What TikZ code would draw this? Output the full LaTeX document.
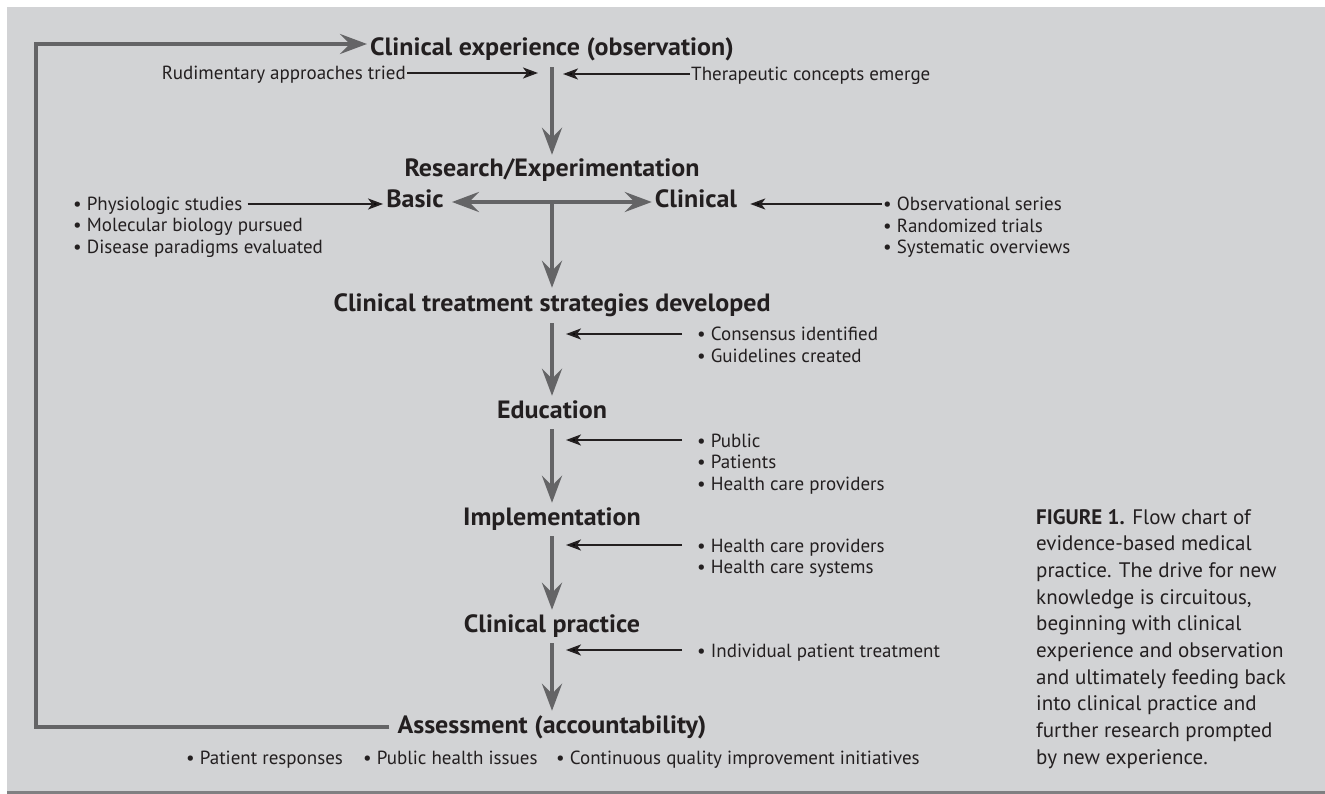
\documentclass[tikz,border=0pt]{standalone}
\usepackage{fontspec}
\setmainfont{PT Sans}
\newfontfamily\stagefont[FakeStretch=1.04]{PT Sans}
\usetikzlibrary{arrows.meta}

\definecolor{panel}{RGB}{210,211,213}
\definecolor{rule}{RGB}{128,128,130}
\definecolor{spine}{RGB}{100,100,102}
\definecolor{ink}{RGB}{35,31,32}

\begin{document}
\begin{tikzpicture}[x=1pt,y=-1pt,inner sep=2pt,
    stage/.style={font=\stagefont\fontsize{25}{29}\selectfont\bfseries,text=ink,text height=17pt,text depth=5pt},
    input/.style={font=\fontsize{19}{21.5}\selectfont,text=ink,text height=14pt,text depth=0pt,inner sep=1pt},
    caption/.style={font=\fontsize{21}{26.7}\selectfont,text=ink,inner sep=0pt},
    flow/.style={draw=spine,line width=4.5pt,-{Stealth[length=27pt,width=20pt,inset=10pt]},
                 shorten <=4pt,shorten >=3pt},
    cue/.style={draw=ink,line width=2pt,-{Stealth[length=15pt,width=11pt,inset=4pt]}}]

  % panel
  \useasboundingbox (0,0) rectangle (1325,794);
  \fill[panel] (7,7) rectangle (1325,791);
  \fill[rule] (7,791) rectangle (1325,794);

  % the chain
  \node[stage,anchor=base] (1) at (552,56) {Clinical experience (observation)};
  \node[stage,anchor=base] (2) at (552,177) {Research/Experimentation};
  \node[stage,anchor=base] (3b) at (415,208) {Basic};
  \node[stage,anchor=base] (3c) at (696,208) {Clinical};
  \node[stage,anchor=base] (4) at (552,312) {Clinical treatment strategies developed};
  \node[stage,anchor=base] (5) at (552,418) {Education};
  \node[stage,anchor=base] (6) at (552,525) {Implementation};
  \node[stage,anchor=base] (7) at (552,632) {Clinical practice};
  \node[stage,anchor=base] (8) at (552,733) {Assessment (accountability)};

  % what feeds in
  \node[input,anchor=base east] (1a) at (407,80) {Rudimentary approaches tried};
  \node[input,anchor=base west] (1b) at (690,81) {Therapeutic concepts emerge};
  \node[input,anchor=base west] (3a) at (72,211) {• Physiologic studies};
  \node[input,anchor=base west] (3a2) at (72,232)
    {\begin{tabular}[t]{@{}l@{}}• Molecular biology pursued\\• Disease paradigms evaluated\end{tabular}};
  \node[input,anchor=base west] (3d) at (882,211)
    {\begin{tabular}[t]{@{}l@{}}• Observational series\\• Randomized trials\\• Systematic overviews\end{tabular}};
  \node[input,anchor=base west] (4a) at (696,341)
    {\begin{tabular}[t]{@{}l@{}}• Consensus identified\\• Guidelines created\end{tabular}};
  \node[input,anchor=base west] (5a) at (696,447)
    {\begin{tabular}[t]{@{}l@{}}• Public\\• Patients\\• Health care providers\end{tabular}};
  \node[input,anchor=base west] (6a) at (696,552)
    {\begin{tabular}[t]{@{}l@{}}• Health care providers\\• Health care systems\end{tabular}};
  \node[input,anchor=base west] (7a) at (696,657) {• Individual patient treatment};
  \node[input,anchor=base west] (8a) at (185,764) {• Patient responses};
  \node[input,anchor=base west] (8b) at (362,764) {• Public health issues};
  \node[input,anchor=base west] (8c) at (555,764) {• Continuous quality improvement initiatives};

  \node[caption,anchor=base west] (cap) at (1036,524)
    {\begin{tabular}[t]{@{}l@{}}\textbf{FIGURE 1.} Flow chart of\\evidence-based medical\\
     practice. The drive for new\\knowledge is circuitous,\\beginning with clinical\\
     experience and observation\\and ultimately feeding back\\into clinical practice and\\
     further research prompted\\by new experience.\end{tabular}};

  \path[flow]
    (1) edge (2)
    (4) edge (5)
    (5) edge (6)
    (6) edge (7)
    (7) edge (8)
    (3b) edge[{Stealth[length=27pt,width=20pt,inset=10pt]}-{Stealth[length=27pt,width=20pt,inset=10pt]},
              shorten <=6pt,shorten >=1pt] (3c);
  \draw[flow,shorten <=0pt,shorten >=5pt] (2 |- 3b) -- (4);

  % back to the start
  \draw[flow,shorten <=0pt,shorten >=1pt] ([xshift=-6pt]8.west) -- (8.west -| 36,0) |- ([yshift=6pt]1.west);

  \path[cue]
    (1a) edge[shorten >=14pt] (1a -| 1)
    (1b) edge[shorten >=11pt] (1b -| 1)
    (3a) edge[shorten <=4pt,shorten >=1pt] (3b.west |- 3a)
    (3d) edge[shorten >=11pt] (3c.east |- 3d)
    (4a) edge[shorten <=14pt,shorten >=14pt] (4a -| 4)
    (5a) edge[shorten <=14pt,shorten >=14pt] (5a -| 5)
    (6a) edge[shorten <=14pt,shorten >=14pt] (6a -| 6)
    (7a) edge[shorten <=14pt,shorten >=14pt] (7a -| 7);
\end{tikzpicture}
\end{document}
